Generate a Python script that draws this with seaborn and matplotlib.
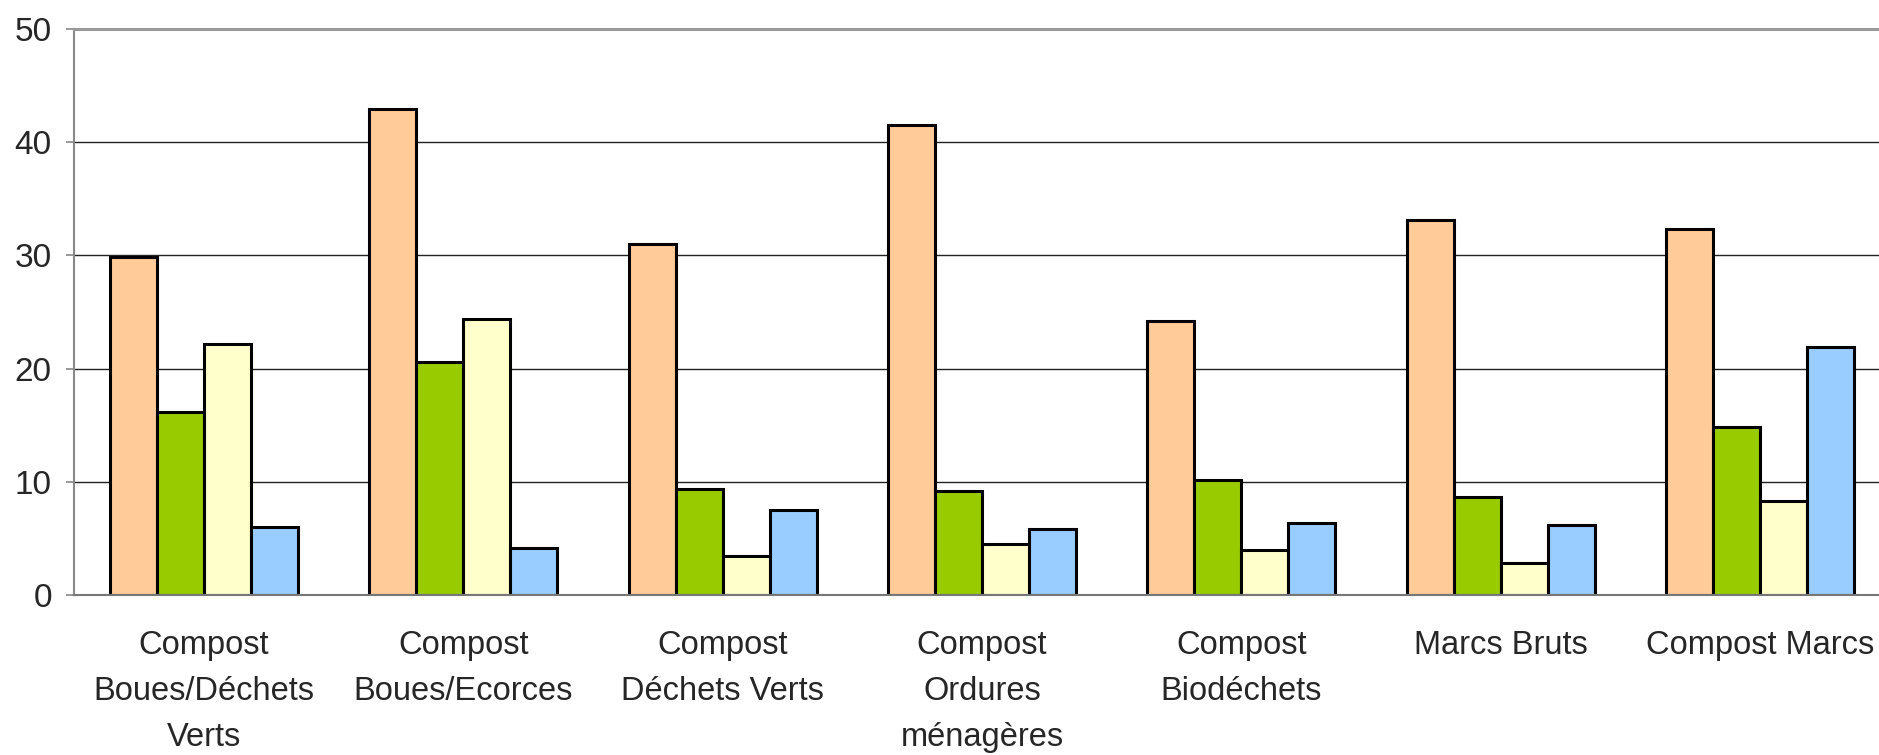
import numpy as np
import pandas as pd
import matplotlib
matplotlib.use('Agg')
import matplotlib.pyplot as plt
import seaborn as sns

# Data
categories = ['Compost\nBoues/Déchets\nVerts', 'Compost\nBoues/Ecorces',
              'Compost\nDéchets Verts', 'Compost\nOrdures\nménagères',
              'Compost\nBiodéchets', 'Marcs Bruts', 'Compost Marcs']
serie1 = [29.9, 42.9, 31.0, 41.5, 24.2, 33.1, 32.3]
serie2 = [16.2, 20.6, 9.4, 9.2, 10.2, 8.7, 14.9]
serie3 = [22.2, 24.4, 3.5, 4.5, 4.0, 2.9, 8.3]
serie4 = [6.0, 4.2, 7.5, 5.9, 6.4, 6.2, 21.9]
series = ['Série 1', 'Série 2', 'Série 3', 'Série 4']
colors = ['#FFCC99', '#99CC00', '#FFFFCC', '#99CCFF']

rows = []
for name, vals in zip(series, [serie1, serie2, serie3, serie4]):
    for cat, v in zip(categories, vals):
        rows.append({'cat': cat, 'val': v, 'serie': name})
df = pd.DataFrame(rows)

sns.set_style('white')
plt.rcParams['font.family'] = ['Liberation Sans', 'DejaVu Sans']

fig = plt.figure(figsize=(18.79, 7.55), dpi=100)
ax = fig.add_axes([0.0394, 0.2113, 0.9664, 0.7506])

sns.barplot(data=df, x='cat', y='val', hue='serie', palette=colors,
            order=categories, hue_order=series, width=0.725, gap=0,
            saturation=1, edgecolor='black', linewidth=2.2,
            legend=False, ax=ax)

ax.set_xlim(-0.5, 6.5)
ax.set_ylim(0, 50)
ax.set_yticks(np.arange(0, 51, 10))
ax.set_xlabel('')
ax.set_ylabel('')

ax.yaxis.grid(True, color='#222222', linewidth=1.0)
ax.set_axisbelow(True)

ax.spines['right'].set_visible(False)
ax.spines['top'].set_color('#999999')
ax.spines['top'].set_linewidth(2.2)
ax.spines['left'].set_color('#888888')
ax.spines['left'].set_linewidth(1.5)
ax.spines['bottom'].set_color('#777777')
ax.spines['bottom'].set_linewidth(1.5)

# tick marks at category boundaries, labels at centres
ax.set_xticks(np.arange(-0.5, 7, 1), minor=True)
ax.tick_params(axis='x', which='minor', length=9, width=1.2, color='#888888', direction='out')
ax.tick_params(axis='x', which='major', length=0, pad=25, labelsize=23.5)
ax.tick_params(axis='y', length=6, width=1.2, color='#888888', direction='out',
               left=True, pad=10, labelsize=24)
for lab in ax.get_xticklabels():
    lab.set_linespacing(1.62)
    lab.set_verticalalignment('top')

fig.savefig('out.png', dpi=100)
